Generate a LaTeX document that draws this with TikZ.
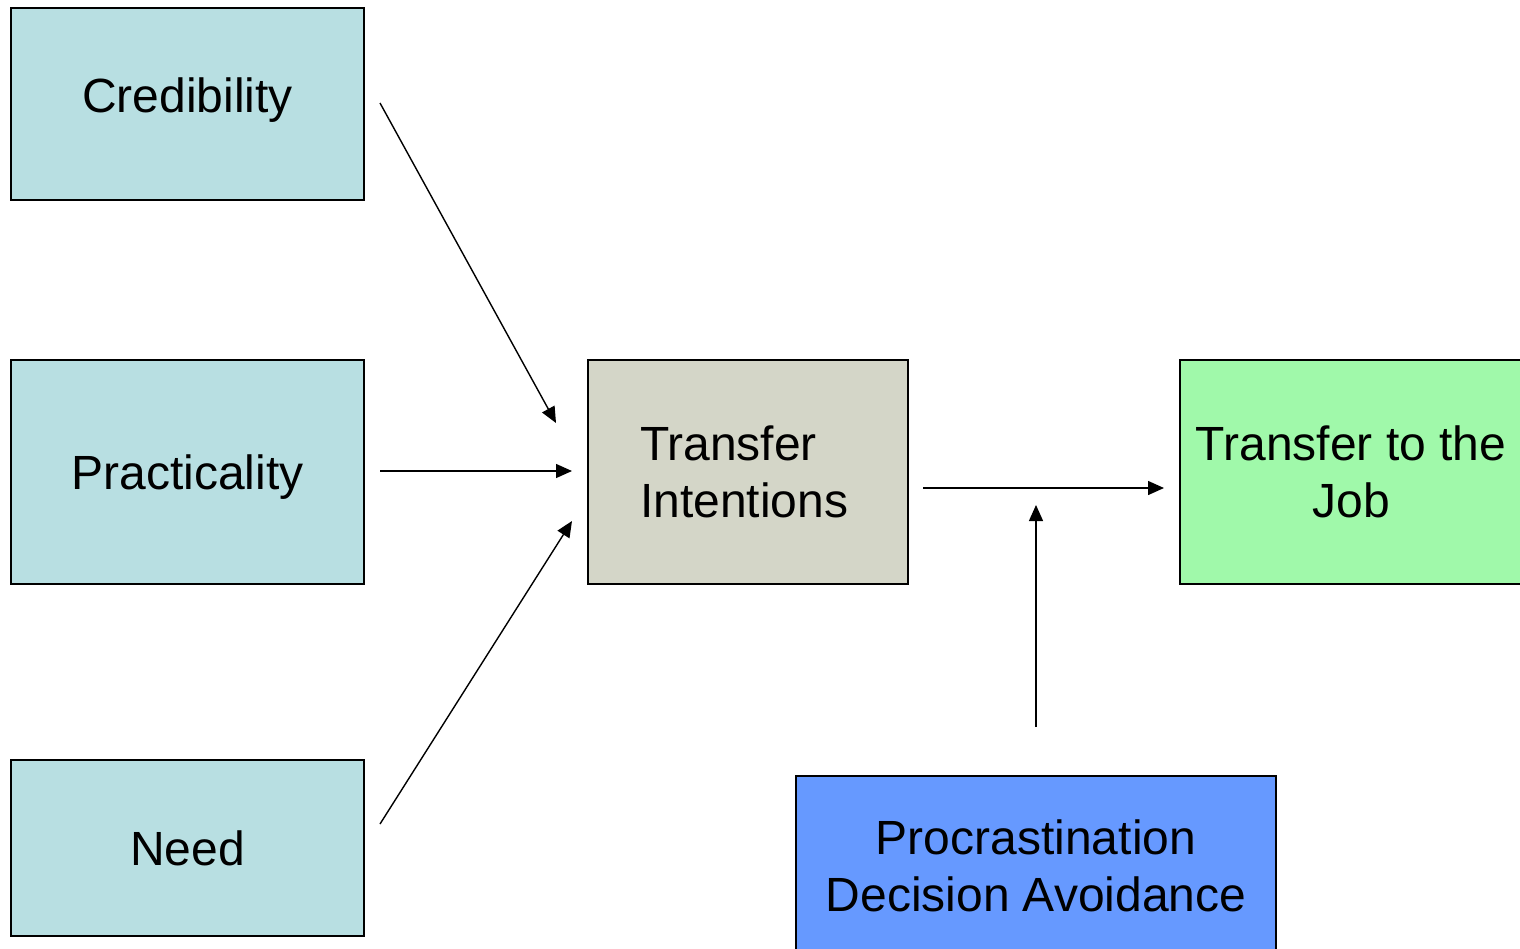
\documentclass[tikz,border=0pt]{standalone}
\usepackage{fontspec}
\setmainfont{Liberation Sans}
\usetikzlibrary{arrows.meta,calc}
% lift text by #1 while keeping its measured box
\newcommand{\liftby}[2]{\raisebox{#1}[\height][\depth]{#2}}
\begin{document}
\begin{tikzpicture}[x=1pt,y=-1pt,
  box/.style={draw=black,line width=2pt,inner sep=0pt,outer sep=0pt,
    font=\fontsize{48}{57}\selectfont},
  link/.style={line width=1.4pt,-{Triangle[length=16pt,width=14pt]}}]
  \useasboundingbox (0,0) rectangle (1520,948);
  \definecolor{factor}{HTML}{B8DFE2}
  \definecolor{intent}{HTML}{D4D6C8}
  \definecolor{outcome}{HTML}{A0F9AA}
  \definecolor{barrier}{HTML}{6699FF}

  % input factors
  \node[box,fill=factor,minimum width=353pt,minimum height=192pt]
    (cred) at (187.5,104) {\liftby{4pt}{Credibility}};
  \node[box,fill=factor,minimum width=353pt,minimum height=224pt]
    (prac) at (187.5,472) {\liftby{-5pt}{Practicality}};
  \node[box,fill=factor,minimum width=353pt,minimum height=176pt]
    (need) at (187.5,848) {Need};

  % intentions and outcome
  \node[box,fill=intent,minimum width=320pt,minimum height=224pt,
        text width=216pt,align=left]
    (intent) at (748,472) {Transfer\\Intentions};
  \node[box,fill=outcome,minimum width=342pt,minimum height=224pt,align=center]
    (job) at (1351,472) {Transfer to the\\Job};

  % moderating barrier
  \node[box,fill=barrier,minimum width=480pt,minimum height=180pt,align=center]
    (proc) at (1036,866) {Procrastination\\Decision Avoidance};

  % connector end points
  \coordinate (credout) at ($(cred.east)+(16,-1)$);
  \coordinate (credin) at ($(intent.west)+(-32,-49)$);
  \coordinate (pracout) at ($(prac.east)+(16,-1)$);
  \coordinate (pracin) at ($(intent.west)+(-16,-1)$);
  \coordinate (needout) at ($(need.east)+(16,-24)$);
  \coordinate (needin) at ($(intent.west)+(-16,49)$);
  \coordinate (intout) at ($(intent.east)+(15,16)$);
  \coordinate (jobin) at ($(job.west)+(-16,16)$);
  \coordinate (procout) at ($(proc.north)+(0,-49)$);
  \coordinate (procin) at ($(intout)!0.5!(jobin)+(-7.5,17)$);

  \draw[link] (credout) -- (credin);
  \draw[link] (pracout) -- (pracin);
  \draw[link] (needout) -- (needin);
  \draw[link] (intout) -- (jobin);
  \draw[link] (procout) -- (procin);
\end{tikzpicture}
\end{document}
